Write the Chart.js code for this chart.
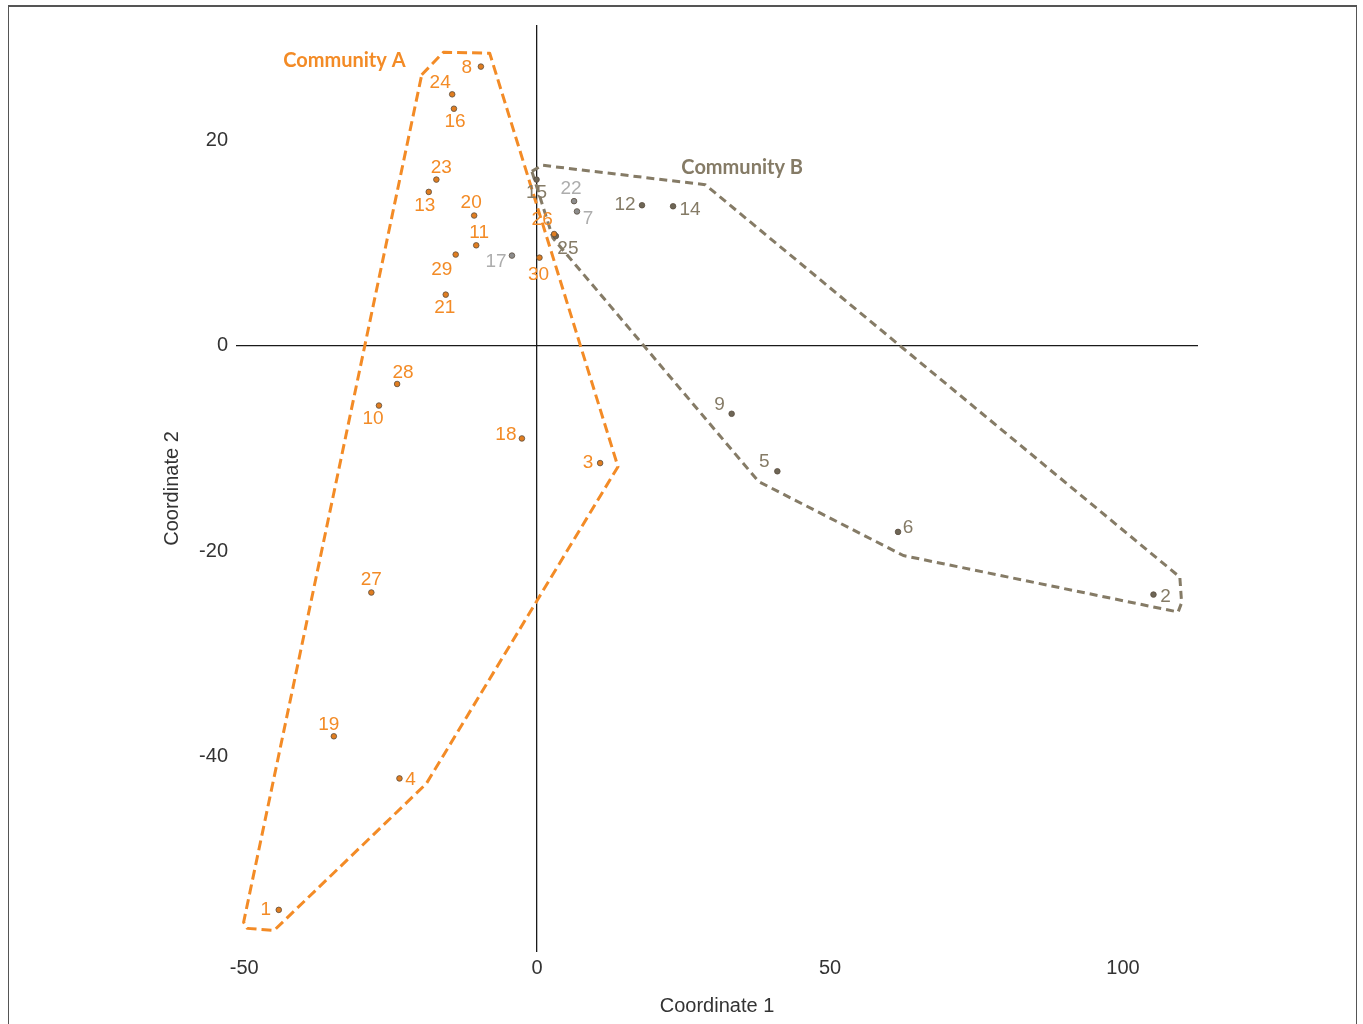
<!DOCTYPE html>
<html>
<head>
<meta charset="utf-8">
<script src="https://cdn.jsdelivr.net/npm/chart.js@4.4.1/dist/chart.umd.min.js"></script>
<style>
  body { margin: 0; background: #fff; }
  #wrap { position: relative; width: 1363px; height: 1024px; overflow: hidden; }
  #frame { position: absolute; left: 8px; top: 5px; width: 1347px; height: 1040px;
           border-top: 2px solid #555; border-left: 1px solid #555; border-right: 1px solid #555; pointer-events: none; }
</style>
</head>
<body>
<div id="wrap">
  <canvas id="ordination" width="1363" height="1024"></canvas>
  <div id="frame"></div>
</div>
<script>
// Pontos (ids, coordenadas e comunidade)
const ids       = [1, 2, 3, 4, 5, 6, 7, 8, 9, 10, 11, 12, 13, 14, 15, 16, 17, 18, 19, 20, 21, 22, 23, 24, 25, 26, 27, 28, 29, 30];
const coord1    = [-44.1, 105.2, 10.75, -23.5, 41.0, 61.6, 6.8, -9.6, 33.2, -27.0, -10.4, 17.9, -18.5, 23.2, -0.1, -14.2, -4.3, -2.6, -34.7, -10.75, -15.6, 6.3, -17.2, -14.5, 3.2, 2.9, -28.3, -23.9, -13.9, 0.4];
const coord2    = [-54.9, -24.2, -11.4, -42.1, -12.2, -18.1, 13.1, 27.2, -6.6, -5.8, 9.8, 13.7, 15.0, 13.6, 16.2, 23.1, 8.8, -9.0, -38.0, 12.7, 5.0, 14.1, 16.2, 24.5, 10.7, 10.9, -24.0, -3.7, 8.9, 8.6];
const community = ['A', 'B', 'A', 'A', 'B', 'B', '-', 'A', 'B', 'A', 'A', 'B', 'A', 'B', 'B', 'A', '-', 'A', 'A', 'A', 'A', '-', 'A', 'A', 'B', 'A', 'A', 'A', 'A', 'A'];

// Contornos das comunidades
const hullAX = [-19.7, -16.0, -8.1, 13.8, -18.9, -44.9, -49.5, -50.1];
const hullAY = [26.4, 28.6, 28.5, -11.75, -42.6, -56.9, -56.7, -56.1];
const hullBX = [-0.9, 0.8, 28.7, 109.7, 110.0, 109.4, 62.5, 37.8, 2.7];
const hullBY = [17.0, 17.6, 15.7, -22.5, -25.0, -25.9, -20.4, -13.2, 10.5];

const communityNames = ['Community A', 'Community B'];
const communityLabelX = [-32.9, 35.0];
const communityLabelY = [27.75, 17.4];

const xTicks = [-50, 0, 50, 100];
const yTicks = [-40, -20, 0, 20];

const CORES = {
    A: '#F38B26',
    B: '#857B66',
    '-': '#ADADAD'
};
const CORES_PONTO = {
    A: '#E07D20',
    B: '#6E6656',
    '-': '#8C8C8C'
};

// deslocamento dos rótulos em pixels (dx, dy) a partir do ponto
const labelOffsets = {
    1: [-13, 0], 2: [12, 2], 3: [-12, 0], 4: [11, 1], 5: [-13, -10], 6: [10, -4],
    7: [11, 7], 8: [-14, 1], 9: [-12, -9], 10: [-6, 13], 11: [3, -13], 12: [-17, 0],
    13: [-4, 14], 14: [17, 3], 15: [0, 13], 16: [1, 13], 17: [-16, 6], 18: [-16, -4],
    19: [-5, -12], 20: [-3, -13], 21: [-1, 13], 22: [-3, -12], 23: [5, -12], 24: [-12, -12],
    25: [12, 13], 26: [-12, -14], 27: [0, -13], 28: [6, -11], 29: [-14, 15], 30: [-1, 17]
};

function pontosDa(grupo) {
    const pts = [];
    ids.forEach((id, i) => {
        if (community[i] === grupo) pts.push({ x: coord1[i], y: coord2[i], id: id });
    });
    return pts;
}

function contorno(xs, ys) {
    const pts = xs.map((x, i) => ({ x: x, y: ys[i] }));
    pts.push(pts[0]);
    return pts;
}

const rotulosPlugin = {
    id: 'rotulos',
    afterDatasetsDraw(chart) {
        const c = chart.ctx;
        c.save();
        c.textAlign = 'center';
        c.textBaseline = 'middle';
        c.font = '19px "Liberation Sans", Arial, sans-serif';
        chart.data.datasets.forEach((ds, di) => {
            if (!ds.grupo) return;
            const meta = chart.getDatasetMeta(di);
            c.fillStyle = CORES[ds.grupo];
            meta.data.forEach((el, i) => {
                const id = ds.data[i].id;
                const off = labelOffsets[id] || [0, -12];
                c.fillText(String(id), el.x + off[0], el.y + off[1]);
            });
        });
        const xs = chart.scales.x, ys = chart.scales.y;
        c.font = 'bold 20px Lato, "Open Sans", sans-serif';
        communityNames.forEach((nome, i) => {
            c.fillStyle = i === 0 ? CORES.A : CORES.B;
            c.fillText(nome, xs.getPixelForValue(communityLabelX[i]), ys.getPixelForValue(communityLabelY[i]));
        });
        c.restore();
    }
};

function datasetPontos(grupo) {
    return {
        grupo: grupo,
        data: pontosDa(grupo),
        backgroundColor: CORES_PONTO[grupo],
        borderColor: '#5a4e40',
        borderWidth: 0.8,
        pointRadius: 2.8,
        showLine: false
    };
}

const zeroGrid = {
    drawTicks: false,
    lineWidth: 1.3,
    color: ctx => (ctx.tick && ctx.tick.value === 0 ? '#1a1a1a' : 'rgba(0,0,0,0)')
};

new Chart(document.getElementById('ordination').getContext('2d'), {
    type: 'scatter',
    data: {
        datasets: [
            datasetPontos('A'),
            datasetPontos('B'),
            datasetPontos('-'),
            {
                data: contorno(hullAX, hullAY),
                showLine: true,
                borderColor: CORES.A,
                borderWidth: 3,
                borderDash: [10, 5],
                borderJoinStyle: 'round',
                pointRadius: 0,
                fill: false,
                tension: 0
            },
            {
                data: contorno(hullBX, hullBY),
                showLine: true,
                borderColor: CORES.B,
                borderWidth: 3,
                borderDash: [8, 5],
                borderJoinStyle: 'round',
                pointRadius: 0,
                fill: false,
                tension: 0
            }
        ]
    },
    options: {
        responsive: false,
        animation: false,
        layout: { padding: { left: 160, right: 165, top: 25, bottom: 6 } },
        plugins: {
            legend: { display: false },
            tooltip: { enabled: false }
        },
        scales: {
            x: {
                type: 'linear',
                min: -51.4,
                max: 112.8,
                afterBuildTicks: scale => { scale.ticks = xTicks.map(v => ({ value: v })); },
                afterFit: scale => { scale.height = 66; },
                grid: zeroGrid,
                border: { display: false },
                ticks: {
                    padding: 4,
                    color: '#333',
                    font: { family: '"Liberation Sans", Arial, sans-serif', size: 20 }
                },
                title: {
                    display: true,
                    text: 'Coordinate 1',
                    color: '#333',
                    padding: 0,
                    font: { family: '"Liberation Sans", Arial, sans-serif', size: 20 }
                }
            },
            y: {
                type: 'linear',
                min: -59,
                max: 31.25,
                afterBuildTicks: scale => { scale.ticks = yTicks.map(v => ({ value: v })); },
                afterFit: scale => { scale.width = 76; },
                grid: zeroGrid,
                border: { display: false },
                ticks: {
                    padding: 8,
                    color: '#333',
                    font: { family: '"Liberation Sans", Arial, sans-serif', size: 20 }
                },
                title: {
                    display: true,
                    text: 'Coordinate 2',
                    color: '#333',
                    padding: 0,
                    font: { family: '"Liberation Sans", Arial, sans-serif', size: 20 }
                }
            }
        }
    },
    plugins: [rotulosPlugin]
});
</script>
</body>
</html>
